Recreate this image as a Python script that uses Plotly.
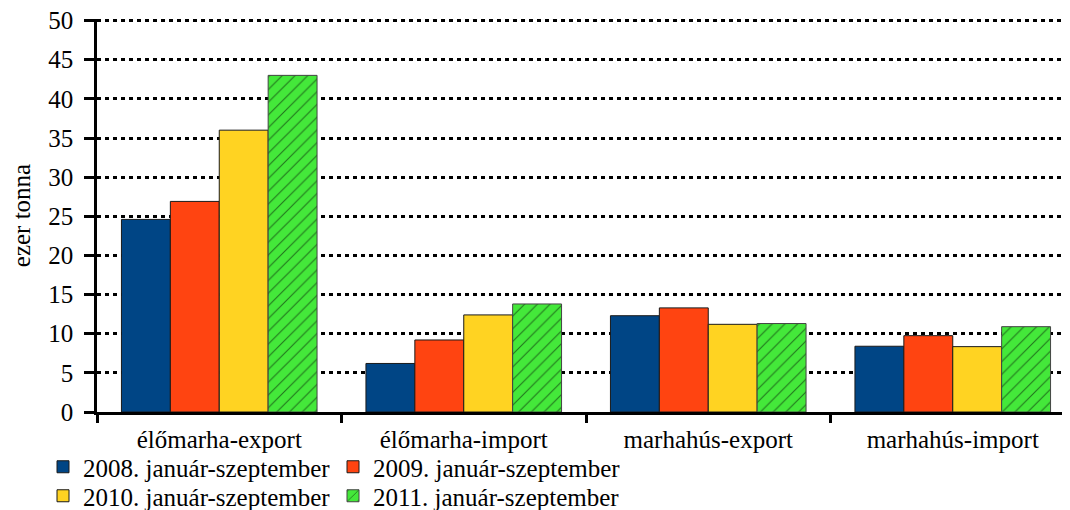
import plotly.graph_objects as go

categories = ["élőmarha-export", "élőmarha-import", "marhahús-export", "marhahús-import"]
series_names = ["2008. január-szeptember", "2009. január-szeptember",
                "2010. január-szeptember", "2011. január-szeptember"]
v2008 = [24.6, 6.2, 12.3, 8.4]
v2009 = [26.9, 9.2, 13.3, 9.75]
v2010 = [36.0, 12.4, 11.2, 8.35]
v2011 = [43.0, 13.8, 11.3, 10.9]
y_title = "ezer tonna"
y_ticks = [0, 5, 10, 15, 20, 25, 30, 35, 40, 45, 50]

values = [v2008, v2009, v2010, v2011]
colors = ["#004585", "#FF4411", "#FFD322", "#44E83A"]
line_colors = ["#1a1a1a", "#1a1a1a", "#1a1a1a", "#444444"]
legend_ids = ["legend", "legend2", "legend3", "legend4"]

FONT = "Liberation Serif"
FS = 25

fig = go.Figure()
for i, (name, vals) in enumerate(zip(series_names, values)):
    marker = dict(color=colors[i], line=dict(color=line_colors[i], width=1))
    if i == 3:
        marker["pattern"] = dict(shape="/", fgcolor="#000000", bgcolor=colors[i],
                                 size=9, solidity=0.12, fillmode="overlay")
    fig.add_trace(go.Bar(x=categories, y=vals, name=name, marker=marker,
                         legend=legend_ids[i], showlegend=True))

# page body has an 8px margin, so the figure is drawn 8px right/down
OFF = 8
W, H = 1070 - OFF, 510 - OFF
ml, mr, mt, mb = 97 - OFF, 0, 19 - OFF, 98
pw = W - ml - mr
ph = H - mt - mb

def px_x(p):
    return (p - OFF - ml) / pw

def px_y(p):
    return (H - mb - (p - OFF)) / ph

leg_common = dict(orientation="h", bgcolor="rgba(0,0,0,0)", visible=True,
                  font=dict(family=FONT, size=FS, color="#000000"),
                  xanchor="left", yanchor="middle", itemclick=False)

fig.update_layout(
    width=W, height=H, showlegend=True,
    margin=dict(l=ml, r=mr, t=mt, b=mb, autoexpand=False),
    plot_bgcolor="#FFFFFF", paper_bgcolor="#FFFFFF",
    barmode="group", bargap=0.2, bargroupgap=0,
    font=dict(family=FONT, size=FS, color="#000000"),
    legend=dict(x=px_x(43), y=px_y(467), **leg_common),
    legend2=dict(x=px_x(333), y=px_y(467), **leg_common),
    legend3=dict(x=px_x(43), y=px_y(496), **leg_common),
    legend4=dict(x=px_x(333), y=px_y(496), **leg_common),
)

fig.update_xaxes(
    range=[-0.5, -0.5 + pw / 244.5],
    showline=True, linecolor="#000000", linewidth=2.5,
    ticks="outside", tickson="boundaries", ticklen=8, tickwidth=2.5, tickcolor="#000000",
    tickfont=dict(family=FONT, size=FS, color="#000000"), ticklabelstandoff=3,
    showgrid=False, zeroline=False,
)
fig.update_yaxes(
    range=[0, 50.2], tickmode="array",
    tickvals=y_ticks, ticktext=[str(t) for t in y_ticks],
    ticklabeloverflow="allow", ticklabelstandoff=6,
    showline=True, linecolor="#000000", linewidth=2.5,
    ticks="outside", ticklen=10, tickwidth=2.5, tickcolor="#000000",
    tickfont=dict(family=FONT, size=FS, color="#000000"),
    showgrid=True, gridcolor="#000000", gridwidth=2.5, griddash="4px,4px",
    zeroline=False,
    title=dict(text=y_title, font=dict(family=FONT, size=FS, color="#000000"), standoff=20),
)

fig.write_html("out.html")
